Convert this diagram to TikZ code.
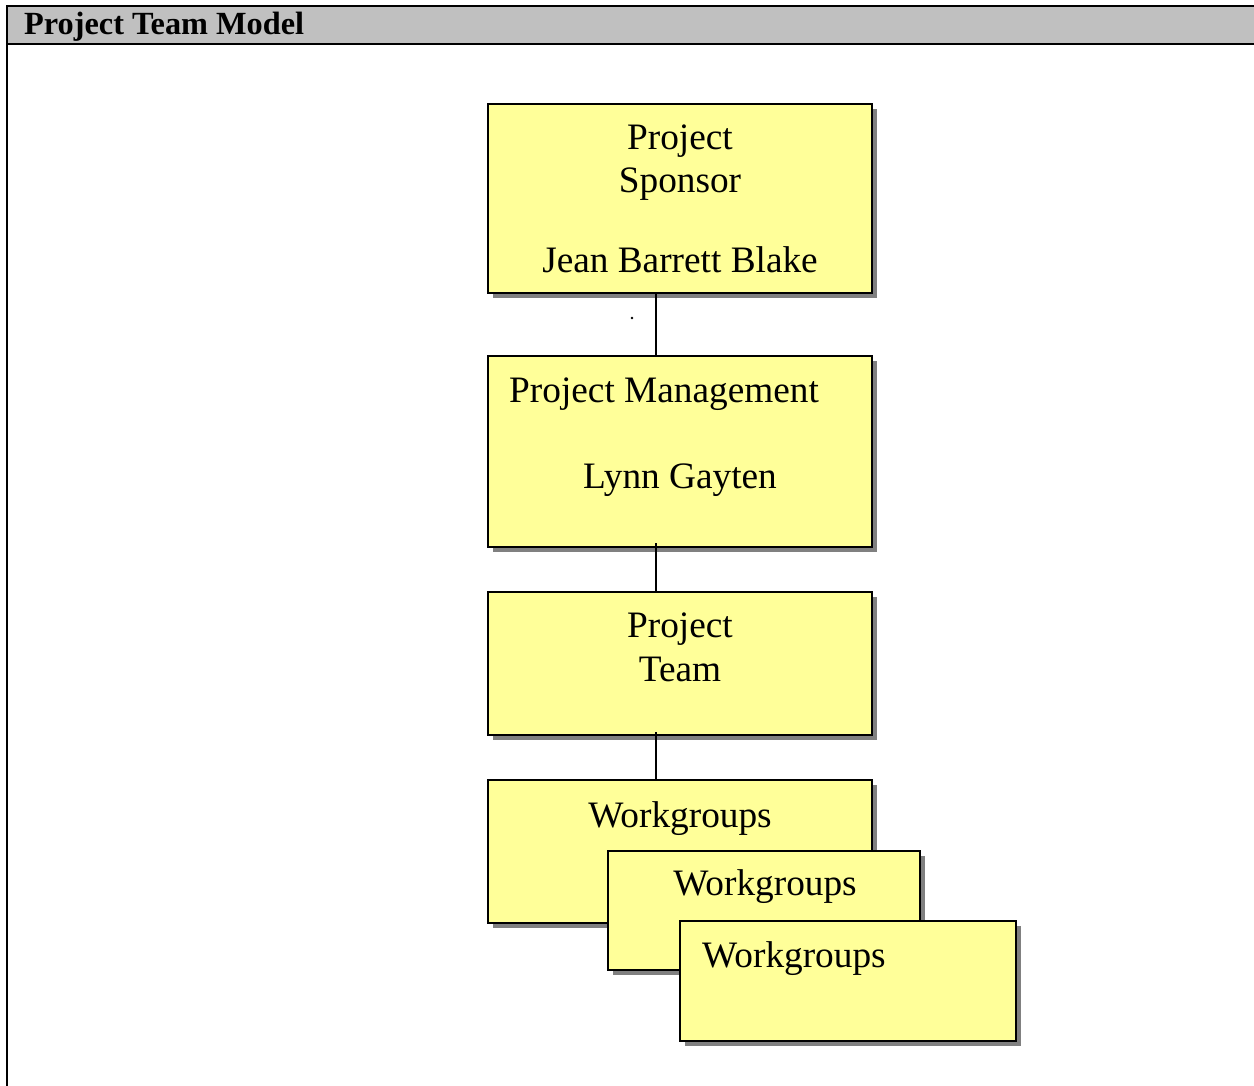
\documentclass[tikz,border=0pt]{standalone}
\usepackage{fontspec}
\setmainfont{Liberation Serif}
\usetikzlibrary{shadows}
\definecolor{boxyellow}{RGB}{255,255,153}
\definecolor{shadowgray}{RGB}{128,128,128}
\definecolor{headgray}{RGB}{192,192,192}
\tikzset{
  box/.style={draw=black, line width=2pt, fill=boxyellow, anchor=north west, inner sep=0pt, outer sep=0pt,
    drop shadow={opacity=1, fill=shadowgray, shadow xshift=5pt, shadow yshift=-5pt}},
  lbl/.style={inner sep=0pt, font=\fontsize{37.3}{44}\selectfont},
  conn/.style={line width=2pt},
}
\begin{document}
\begin{tikzpicture}[x=1pt,y=-1pt]
\useasboundingbox (0,0) rectangle (1254,1086);
% frame and header
\fill[headgray] (7,6) rectangle (1254,44);
\draw[line width=2.5pt] (7,1086) -- (7,6) -- (1254,6);
\draw[line width=2.5pt] (7,44) -- (1254,44);
\node[anchor=base west, inner sep=0pt, font=\bfseries\fontsize{32.3}{38}\selectfont] (title) at (24,35) {Project Team Model};
% boxes
\node[box, minimum width=384pt, minimum height=189pt] (sponsor) at (488,104) {};
\node[box, minimum width=384pt, minimum height=191pt] (pm) at (488,356) {};
\node[box, minimum width=384pt, minimum height=143pt] (team) at (488,592) {};
\node[box, minimum width=384pt, minimum height=143pt] (wg1) at (488,780) {};
\node[box, minimum width=312pt, minimum height=119pt] (wg2) at (608,851) {};
\node[box, minimum width=336pt, minimum height=120pt] (wg3) at (680,921) {};
% texts
\node[lbl, anchor=base] (t1) at (680,150) {Project};
\node[lbl, anchor=base] (t2) at (680,193) {Sponsor};
\node[lbl, anchor=base] (t3) at (680,273) {Jean Barrett Blake};
\node[lbl, anchor=base west] (t4) at (509,402) {Project Management};
\node[lbl, anchor=base] (t5) at (680,488) {Lynn Gayten};
\node[lbl, anchor=base] (t6) at (680,637) {Project};
\node[lbl, anchor=base] (t7) at (680,681) {Team};
\node[lbl, anchor=base] (t8) at (680,827) {Workgroups};
\node[lbl, anchor=base] (t9) at (765,895) {Workgroups};
\node[lbl, anchor=base west] (t10) at (702,967) {Workgroups};
% connectors
\coordinate (cx) at (656,0);
\draw[conn] (sponsor.south -| cx) -- (pm.north -| cx);
\draw[conn] ([yshift=4pt]pm.south -| cx) -- (team.north -| cx);
\draw[conn] ([yshift=3pt]team.south -| cx) -- (wg1.north -| cx);
% stray dot
\fill (632,318) circle (1.4pt);
\end{tikzpicture}
\end{document}
